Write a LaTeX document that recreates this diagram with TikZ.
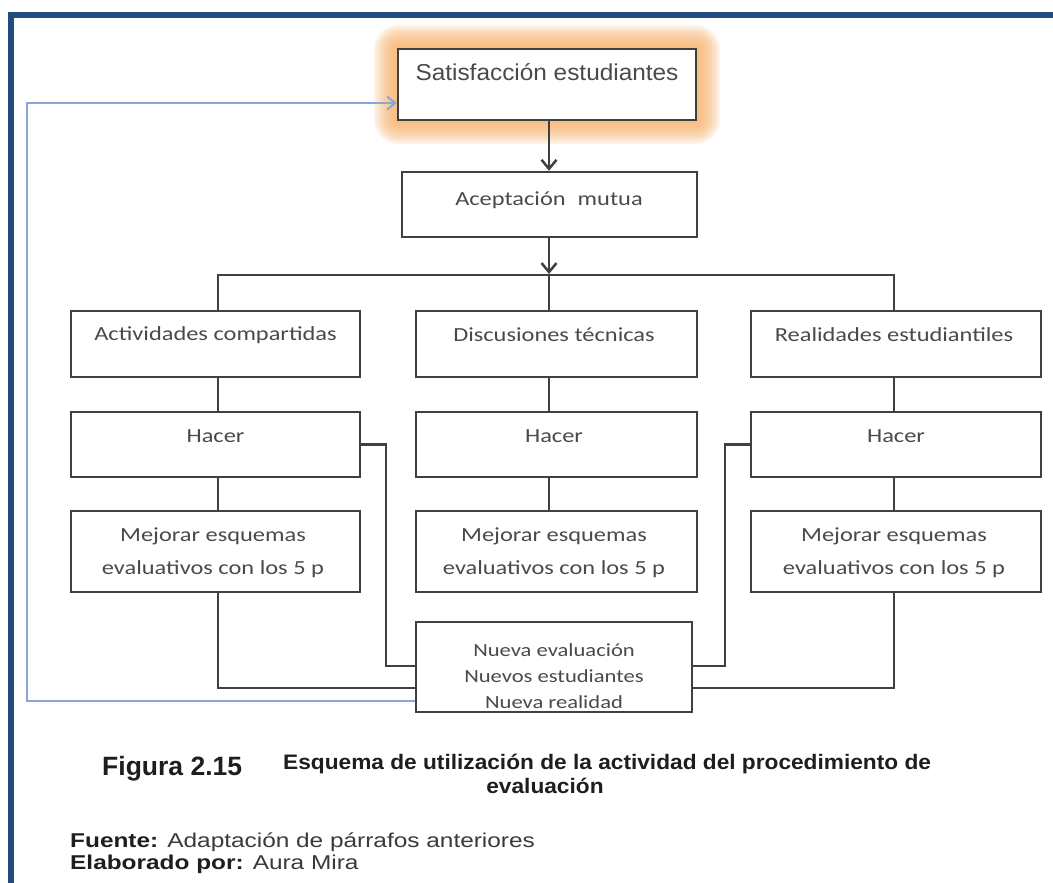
\documentclass[tikz,border=0pt]{standalone}
\usepackage{fontspec}
\setmainfont{Liberation Sans}
\newfontfamily\boxfont[FakeStretch=1.22]{Carlito}
\newfontfamily\satfont[FakeStretch=1.06]{Liberation Sans}
\newfontfamily\figfont[FakeStretch=1.0]{Liberation Sans}
\newfontfamily\esqfont[FakeStretch=1.08]{Liberation Sans}
\newfontfamily\srcfont[FakeStretch=1.22]{Liberation Sans}
\usetikzlibrary{arrows.meta,calc}
\definecolor{frameblue}{HTML}{224B80}
\definecolor{boxline}{HTML}{404040}
\definecolor{boxtext}{HTML}{4A4A4A}
\definecolor{fbblue}{HTML}{8AA6D6}
\definecolor{glowc}{HTML}{F9B36A}
\definecolor{captext}{HTML}{1E1E1E}
\definecolor{srctext}{HTML}{3A3A3A}
\begin{document}
\begin{tikzpicture}[x=1pt,y=-1pt,
  flowbox/.style={draw=boxline,line width=2.5pt,fill=white,rectangle,inner sep=0pt},
  conn/.style={draw=boxline,line width=2.5pt},
  arr/.style={conn,-{Straight Barb[length=9pt,width=15pt]}},
  fbarr/.style={draw=fbblue,line width=2pt,-{Straight Barb[length=8pt,width=13pt]}},
  btext/.style={font=\boxfont\fontsize{20}{33}\selectfont,text=boxtext,align=center,inner sep=0pt},
  ntext/.style={font=\boxfont\fontsize{18.5}{26}\selectfont,text=boxtext,align=center,inner sep=0pt},
  captxt/.style={text=captext,inner sep=0pt,anchor=base west}]
\useasboundingbox (0,0) rectangle (1053,883);
\fill[white] (0,0) rectangle (1053,883);
% frame
\fill[frameblue] (8,12) rectangle (1053,18);
\fill[frameblue] (8,12) rectangle (14,883);

% top box with glow
\node[flowbox,minimum width=298pt,minimum height=71pt,draw=none,fill=none] (satg) at (547,84.5) {};
\foreach \i in {1,...,16}{
  \fill[glowc,opacity=0.095,rounded corners=1.6*\i pt]
    ($(satg.south west)+(-1.45*\i,1.45*\i)$) rectangle ($(satg.north east)+(1.45*\i,-1.45*\i)$);
}
\node[flowbox,minimum width=298pt,minimum height=71pt] (sat) at (547,84.5) {};
\node[inner sep=0pt,text=boxtext,font=\satfont\fontsize{23}{26}\selectfont] (satt) at (547,72) {Satisfacción estudiantes};

\node[flowbox,minimum width=295pt,minimum height=65pt] (acep) at (549.5,204.5) {};
\node[btext] (acept) at (549,200) {Aceptación\hspace{0.6em}mutua};

% row 1
\node[flowbox,minimum width=289pt,minimum height=66pt] (a1) at (215.5,344) {};
\node[flowbox,minimum width=281pt,minimum height=66pt] (a2) at (556.5,344) {};
\node[flowbox,minimum width=290pt,minimum height=66pt] (a3) at (896,344) {};
\node[btext] (a1t) at (215.5,335) {Actividades compartidas};
\node[btext] (a2t) at (554,335) {Discusiones técnicas};
\node[btext] (a3t) at (894,335) {Realidades estudiantiles};
% row 2
\node[flowbox,minimum width=289pt,minimum height=65pt] (h1) at (215.5,444.5) {};
\node[flowbox,minimum width=281pt,minimum height=65pt] (h2) at (556.5,444.5) {};
\node[flowbox,minimum width=290pt,minimum height=65pt] (h3) at (896,444.5) {};
\node[btext] (h1t) at (215.5,436) {Hacer};
\node[btext] (h2t) at (554,436) {Hacer};
\node[btext] (h3t) at (896,436) {Hacer};
% row 3
\node[flowbox,minimum width=289pt,minimum height=81pt] (m1) at (215.5,551.5) {};
\node[flowbox,minimum width=281pt,minimum height=81pt] (m2) at (556.5,551.5) {};
\node[flowbox,minimum width=290pt,minimum height=81pt] (m3) at (896,551.5) {};
\node[btext] (m1t) at (213,553) {Mejorar esquemas\\evaluativos con los 5 p};
\node[btext] (m2t) at (554,553) {Mejorar esquemas\\evaluativos con los 5 p};
\node[btext] (m3t) at (894,553) {Mejorar esquemas\\evaluativos con los 5 p};
% bottom box
\node[flowbox,minimum width=276pt,minimum height=90pt] (nv) at (554,667) {};
\node[ntext] (nvt) at (554,676) {Nueva evaluación\\Nuevos estudiantes\\Nueva realidad};

% coordinates
\coordinate (bL) at (218,275);
\coordinate (bM) at (549,275);
\coordinate (bR) at (894,275);
\coordinate (tipA) at (549,274);
\coordinate (cL) at (386,666);
\coordinate (cR) at (725,666);
\coordinate (dL) at (218,688);
\coordinate (dR) at (894,688);
\coordinate (fbA) at (27,701);
\coordinate (fbB) at (27,103);

% connectors
\draw[arr] (sat.south -| bM) -- (acep.north -| bM);
\draw[conn] (a1.north -| bL) -- (bL) -- (bR) -- (a3.north -| bR);
\draw[conn] (bM) -- (a2.north -| bM);
\draw[arr] (acep.south -| bM) -- (tipA);
\draw[conn] (a1.south -| bL) -- (h1.north -| bL);
\draw[conn] (h1.south -| bL) -- (m1.north -| bL);
\draw[conn] (a2.south -| bM) -- (h2.north -| bM);
\draw[conn] (h2.south -| bM) -- (m2.north -| bM);
\draw[conn] (a3.south -| bR) -- (h3.north -| bR);
\draw[conn] (h3.south -| bR) -- (m3.north -| bR);
\draw[conn] (h1.east) -| (cL) -- (cL -| nv.west);
\draw[conn] (h3.west) -| (cR) -- (cR -| nv.east);
\draw[conn] (m1.south -| dL) -- (dL) -- (dL -| nv.west);
\draw[conn] (m3.south -| dR) -- (dR) -- (dR -| nv.east);
\draw[fbarr] (fbA -| nv.west) -- (fbA) -- (fbB) -- (fbB -| sat.west);

% captions
\node[captxt,font=\figfont\bfseries\fontsize{26.5}{30}\selectfont] (fig) at (102,775) {Figura 2.15};
\node[captxt,font=\esqfont\bfseries\fontsize{21}{25}\selectfont] (esq) at (283,769) {Esquema de utilización de la actividad del procedimiento de};
\node[text=captext,inner sep=0pt,anchor=base,font=\esqfont\bfseries\fontsize{21}{25}\selectfont] (esq2) at (545,793) {evaluación};
\node[captxt,text=srctext,font=\srcfont\fontsize{20}{23}\selectfont] (fue) at (70,847) {\textbf{\color{captext}Fuente:} Adaptación de párrafos anteriores};
\node[captxt,text=srctext,font=\srcfont\fontsize{20}{23}\selectfont] (ela) at (70,869) {\textbf{\color{captext}Elaborado por:} Aura Mira};
\end{tikzpicture}
\end{document}
